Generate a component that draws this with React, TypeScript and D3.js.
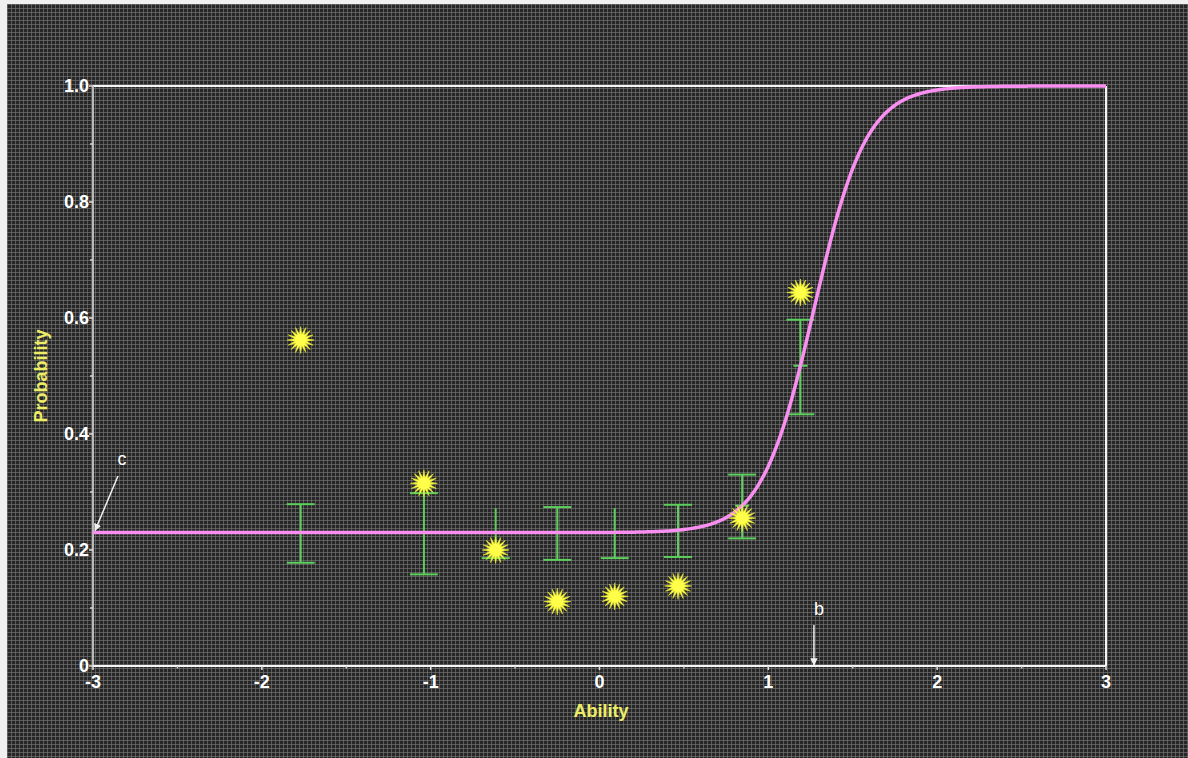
import React from "react";
import * as d3 from "d3";

// Item characteristic curve (3PL) parameters
const guessing = 0.23; // c
const discrimination = 3.8; // a
const difficulty = 1.27; // b
const scaling = 1.7; // D

// Ability groups with observed proportions and model confidence bands
const groupAbility = [-1.77, -1.04, -0.615, -0.25, 0.09, 0.465, 0.845, 1.19];
const observedProp = [0.562, 0.315, 0.2, 0.111, 0.12, 0.138, 0.255, 0.644];
const bandUpper = [0.279, 0.298, 0.272, 0.274, 0.272, 0.278, 0.33, 0.597];
const bandLower = [0.178, 0.158, 0.186, 0.183, 0.186, 0.188, 0.22, 0.434];
const upperCapShown = [true, true, false, true, false, true, true, true];

const xTicks = [-3, -2, -1, 0, 1, 2, 3];
const xTickLabels = ["-3", "-2", "-1", "0", "1", "2", "3"];
const yTicks = [0, 0.2, 0.4, 0.6, 0.8, 1.0];
const yTickLabels = ["0", "0.2", "0.4", "0.6", "0.8", "1.0"];

const W = 1188;
const H = 758;
const left = 93;
const right = 1106;
const top = 86;
const bottom = 666;

const icc = (t: number) =>
  guessing + (1 - guessing) / (1 + Math.exp(-scaling * discrimination * (t - difficulty)));

const FONT = "'Liberation Sans', Arial, Helvetica, sans-serif";

function starPath(spikes: number, rOuter: number, rInner: number) {
  const pts: [number, number][] = [];
  for (let i = 0; i < spikes * 2; i++) {
    const ang = (Math.PI * i) / spikes;
    pts.push([ang, i % 2 === 0 ? rOuter : rInner]);
  }
  return d3.lineRadial().curve(d3.curveLinearClosed)(pts) as string;
}

export default function App() {
  const x = d3.scaleLinear().domain([-3, 3]).range([left, right]);
  const y = d3.scaleLinear().domain([0, 1]).range([bottom, top]);

  const grid = d3.range(-3, 3.0001, 0.01);
  const curve = d3
    .line<number>()
    .x((t) => x(t))
    .y((t) => y(icc(t)))(grid) as string;

  const star = starPath(16, 13.5, 6);
  const capHalf = 14;
  const midHalf = 7;

  const xMinor = d3.range(-2.5, 3, 1);
  const yMinor = d3.range(0.1, 1, 0.2);

  return (
    <svg
      width={W}
      height={H}
      style={{ position: "fixed", left: 0, top: 0, display: "block" }}
      fontFamily={FONT}
    >
      <defs>
        <pattern id="mesh" width="4" height="4" patternUnits="userSpaceOnUse" x="7" y="4">
          <rect width="4" height="4" fill="#262626" />
          <rect width="4" height="1" fill="#5a5a5a" />
          <rect width="1" height="4" fill="#5a5a5a" />
          <rect width="1" height="1" fill="#6e6e6e" />
        </pattern>
        <marker id="arrowC" viewBox="0 0 10 10" refX="9" refY="5" markerWidth="5" markerHeight="5" orient="auto">
          <path d="M0,0 L10,5 L0,10 z" fill="#f0f0f0" />
        </marker>
      </defs>

      <rect width={W} height={H} fill="#f0f0f0" />
      <rect x={7} y={4} width={W - 7} height={H - 4} fill="url(#mesh)" />

      {/* frame */}
      <line x1={left} x2={right} y1={top} y2={top} stroke="#f4f4f4" strokeWidth={2} />
      <line x1={right} x2={right} y1={top} y2={bottom} stroke="#f4f4f4" strokeWidth={2} />
      <line x1={left} x2={left} y1={top} y2={bottom} stroke="#b8b8b8" strokeWidth={2} />
      <line x1={left} x2={right} y1={bottom} y2={bottom} stroke="#f4f4f4" strokeWidth={2} />

      {/* x ticks */}
      {xTicks.map((t, i) => (
        <g key={"xt" + i}>
          <line x1={x(t)} x2={x(t)} y1={bottom} y2={bottom + 4} stroke="#e0e0e0" strokeWidth={1.5} />
          <text
            x={x(t)}
            y={bottom + 22}
            textAnchor="middle"
            fill="#ffffff"
            fontWeight="bold"
            fontSize={18}
          >
            {xTickLabels[i]}
          </text>
        </g>
      ))}
      {xMinor.map((t, i) => (
        <line key={"xm" + i} x1={x(t)} x2={x(t)} y1={bottom} y2={bottom + 2.5} stroke="#d0d0d0" strokeWidth={1.5} />
      ))}

      {/* y ticks */}
      {yTicks.map((v, i) => (
        <g key={"yt" + i}>
          <line x1={left - 4} x2={left} y1={y(v)} y2={y(v)} stroke="#e0e0e0" strokeWidth={1.5} />
          <text
            x={left - 4}
            y={y(v)}
            dy="0.35em"
            textAnchor="end"
            fill="#ffffff"
            fontWeight="bold"
            fontSize={18}
          >
            {yTickLabels[i]}
          </text>
        </g>
      ))}
      {yMinor.map((v, i) => (
        <line key={"ym" + i} x1={left - 3} x2={left} y1={y(v)} y2={y(v)} stroke="#d0d0d0" strokeWidth={1.5} />
      ))}

      {/* axis titles */}
      <text x={601} y={717} textAnchor="middle" fill="#eeee66" fontWeight="bold" fontSize={18}>
        Ability
      </text>
      <text
        transform="translate(47,376) rotate(-90)"
        textAnchor="middle"
        fill="#eeee66"
        fontWeight="bold"
        fontSize={18}
      >
        Probability
      </text>

      {/* confidence bands */}
      {groupAbility.map((t, i) => {
        const cx = x(t);
        const y1 = y(bandUpper[i]);
        const y2 = y(bandLower[i]);
        const ym = y(icc(t));
        return (
          <g key={"eb" + i} stroke="#5ccf5c" strokeWidth={2}>
            <line x1={cx} x2={cx} y1={y1} y2={y2} />
            {upperCapShown[i] && <line x1={cx - capHalf} x2={cx + capHalf} y1={y1} y2={y1} />}
            <line x1={cx - capHalf} x2={cx + capHalf} y1={y2} y2={y2} />
            <line x1={cx - midHalf} x2={cx + midHalf} y1={ym} y2={ym} />
          </g>
        );
      })}

      {/* model curve */}
      <path d={curve} fill="none" stroke="#f98ff0" strokeWidth={3.5} />

      {/* observed proportions */}
      {groupAbility.map((t, i) => (
        <path
          key={"st" + i}
          d={star}
          transform={`translate(${x(t)},${y(observedProp[i])})`}
          fill="#ffff4a"
          stroke="#e8e830"
          strokeWidth={0.6}
        />
      ))}

      {/* parameter annotations */}
      <line x1={118} y1={476} x2={x(-3) + 2} y2={y(guessing) - 2} stroke="#f0f0f0" strokeWidth={1.5} markerEnd="url(#arrowC)" />
      <text x={122} y={465} textAnchor="middle" fill="#ffffff" fontSize={18}>
        c
      </text>
      <line x1={x(difficulty)} y1={625} x2={x(difficulty)} y2={bottom - 1} stroke="#f0f0f0" strokeWidth={1.5} markerEnd="url(#arrowC)" />
      <text x={x(difficulty) + 5} y={615} textAnchor="middle" fill="#ffffff" fontSize={18}>
        b
      </text>
    </svg>
  );
}
